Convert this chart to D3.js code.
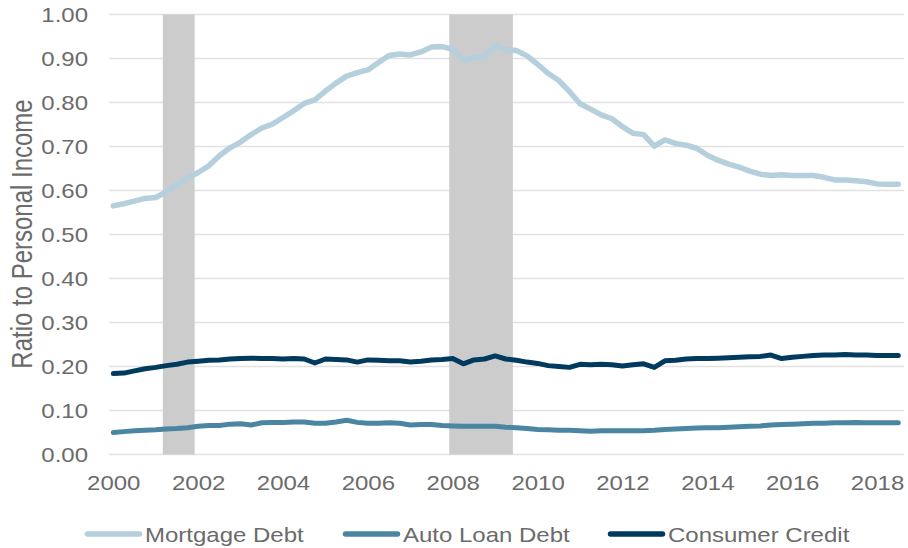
<!DOCTYPE html>
<html>
<head>
<meta charset="utf-8">
<script src="https://cdn.jsdelivr.net/npm/d3@7"></script>
<style>
  html, body { margin: 0; padding: 0; background: #fff; }
  svg { display: block; font-family: "Liberation Sans", Arial, sans-serif; }
</style>
</head>
<body>
<svg id="chart" width="908" height="548"></svg>
<script>
// ---- Data (quarterly, 2000Q1 .. 2018Q3) ----
const startYear = 2000;
const mortgage = [
  0.565, 0.570, 0.576, 0.582, 0.584, 0.597, 0.614, 0.628,
  0.641, 0.656, 0.679, 0.697, 0.710, 0.727, 0.742, 0.751,
  0.766, 0.781, 0.798, 0.806, 0.826, 0.844, 0.860, 0.868,
  0.874, 0.891, 0.907, 0.910, 0.908, 0.915, 0.926, 0.927,
  0.921, 0.896, 0.903, 0.904, 0.930, 0.920, 0.918, 0.906,
  0.887, 0.866, 0.850, 0.825, 0.797, 0.785, 0.772, 0.763,
  0.745, 0.730, 0.727, 0.701, 0.715, 0.707, 0.703, 0.696,
  0.680, 0.669, 0.660, 0.653, 0.644, 0.637, 0.634, 0.636,
  0.634, 0.634, 0.634, 0.630, 0.624, 0.624, 0.622, 0.620,
  0.615, 0.614, 0.614
];
const autoLoan = [
  0.050, 0.052, 0.054, 0.055, 0.056, 0.058, 0.059, 0.061,
  0.064, 0.066, 0.066, 0.069, 0.070, 0.067, 0.072, 0.073,
  0.073, 0.074, 0.074, 0.071, 0.071, 0.074, 0.078, 0.073,
  0.071, 0.071, 0.072, 0.071, 0.067, 0.068, 0.068, 0.066,
  0.065, 0.064, 0.064, 0.064, 0.064, 0.062, 0.061, 0.059,
  0.057, 0.056, 0.055, 0.055, 0.054, 0.053, 0.054, 0.054,
  0.054, 0.054, 0.054, 0.055, 0.057, 0.058, 0.059, 0.060,
  0.061, 0.061, 0.062, 0.063, 0.064, 0.065, 0.067, 0.068,
  0.069, 0.070, 0.071, 0.071, 0.072, 0.072, 0.073, 0.072,
  0.072, 0.072, 0.072
];
const consumerCredit = [
  0.184, 0.185, 0.190, 0.195, 0.198, 0.202, 0.205, 0.210,
  0.212, 0.214, 0.215, 0.217, 0.218, 0.219, 0.218, 0.218,
  0.217, 0.218, 0.217, 0.208, 0.217, 0.216, 0.215, 0.210,
  0.215, 0.214, 0.213, 0.213, 0.210, 0.212, 0.215, 0.216,
  0.218, 0.206, 0.215, 0.217, 0.224, 0.217, 0.214, 0.210,
  0.207, 0.202, 0.200, 0.198, 0.205, 0.204, 0.205, 0.204,
  0.201, 0.204, 0.206, 0.198, 0.213, 0.214, 0.217, 0.218,
  0.218, 0.219, 0.220, 0.221, 0.222, 0.223, 0.226, 0.218,
  0.221, 0.223, 0.225, 0.226, 0.226, 0.227, 0.226, 0.226,
  0.225, 0.225, 0.225
];
const recessions = [[2001.167, 2001.917], [2007.917, 2009.417]];
const xTickYears = [2000, 2002, 2004, 2006, 2008, 2010, 2012, 2014, 2016, 2018];
const yTickValues = [0, 0.1, 0.2, 0.3, 0.4, 0.5, 0.6, 0.7, 0.8, 0.9, 1.0];
const seriesNames = ["Mortgage Debt", "Auto Loan Debt", "Consumer Credit"];
const seriesColors = ["#b5cfdc", "#4a86a1", "#003a5f"];
const yAxisTitle = "Ratio to Personal Income";

// ---- Layout ----
const svg = d3.select("#chart");
const plotLeft = 109, plotRight = 904, plotTop = 14.5, plotBottom = 454.5;
const textColor = "#6b6b6b";
const sx = 1.2;

const x = d3.scaleLinear().domain([1999.899, 2018.635]).range([plotLeft, plotRight]);
const y = d3.scaleLinear().domain([0, 1]).range([plotBottom, plotTop]);

const dates = mortgage.map((_, i) => startYear + i / 4);

// gridlines
svg.append("g").selectAll("line").data(yTickValues).join("line")
  .attr("x1", plotLeft).attr("x2", plotRight)
  .attr("y1", d => y(d)).attr("y2", d => y(d))
  .attr("stroke", "#e2e2e2").attr("stroke-width", 1.5);

// recession shading
svg.append("g").selectAll("rect").data(recessions).join("rect")
  .attr("x", d => x(d[0])).attr("width", d => x(d[1]) - x(d[0]))
  .attr("y", y(1)).attr("height", y(0) - y(1))
  .attr("fill", "#cccccc");

// lines
const series = [mortgage, autoLoan, consumerCredit];
const line = d3.line().x((d, i) => x(dates[i])).y(d => y(d));
svg.append("g").selectAll("path").data(series).join("path")
  .attr("d", d => line(d))
  .attr("fill", "none")
  .attr("stroke", (d, i) => seriesColors[i])
  .attr("stroke-width", (d, i) => i === 0 ? 5.5 : 5)
  .attr("stroke-linejoin", "round")
  .attr("stroke-linecap", "round");

// y axis
const yAxis = svg.append("g").attr("transform", `translate(88,0)`)
  .call(d3.axisLeft(y).tickValues(yTickValues).tickSize(0).tickFormat(d3.format(".2f")));
yAxis.select(".domain").remove();
yAxis.selectAll("text")
  .attr("x", null).attr("dy", null)
  .attr("transform", `translate(0,7) scale(${sx},1)`)
  .attr("text-anchor", "end")
  .attr("fill", textColor)
  .style("font-size", "20px").style("font-family", "'Liberation Sans', Arial, sans-serif");

// x axis
const xAxis = svg.append("g").attr("transform", `translate(0,${plotBottom})`)
  .call(d3.axisBottom(x).tickValues(xTickYears).tickSize(0).tickFormat(d3.format("d")));
xAxis.select(".domain").remove();
xAxis.selectAll("text")
  .attr("y", null).attr("dy", null)
  .attr("transform", `translate(0,35.5) scale(${sx},1)`)
  .attr("text-anchor", "middle")
  .attr("fill", textColor)
  .style("font-size", "20px").style("font-family", "'Liberation Sans', Arial, sans-serif");

// y axis title
svg.append("text")
  .attr("transform", `translate(32.3,234) scale(${sx},1) rotate(-90)`)
  .attr("text-anchor", "middle")
  .attr("fill", textColor)
  .style("font-size", "24px")
  .text(yAxisTitle);

// legend
const legendSwatchX = [87.5, 345.5, 610.5];
const legendY = 534;
const leg = svg.append("g").selectAll("g").data(seriesNames).join("g")
  .attr("transform", (d, i) => `translate(${legendSwatchX[i]},${legendY})`);
leg.append("line")
  .attr("x1", 0).attr("x2", 52).attr("y1", 0).attr("y2", 0)
  .attr("stroke", (d, i) => seriesColors[i])
  .attr("stroke-width", 5.5).attr("stroke-linecap", "round");
leg.append("text")
  .attr("transform", `translate(57.5,8) scale(${sx},1)`)
  .attr("fill", textColor)
  .style("font-size", "20px")
  .text(d => d);
</script>
</body>
</html>
